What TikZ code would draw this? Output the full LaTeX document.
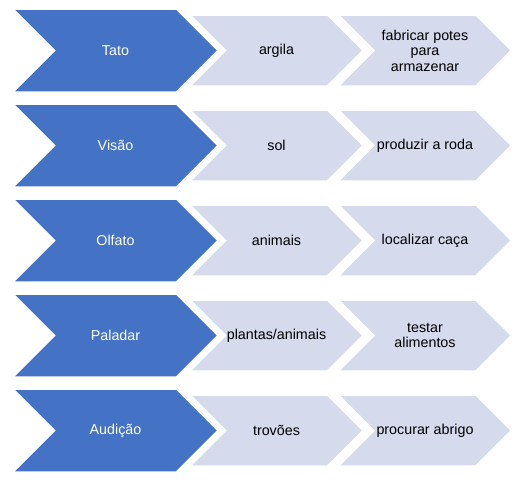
\documentclass[tikz,border=0pt]{standalone}
\usepackage{fontspec}
\setmainfont{Liberation Sans}
\usetikzlibrary{shapes.symbols,positioning}
\definecolor{senseblue}{RGB}{68,114,196}
\definecolor{itemgray}{RGB}{213,218,236}
\tikzset{
    %Define style for the sense chevrons
    sense/.style={
           signal,
           signal from=west,
           signal to=east,
           draw=white, line width=1.5pt,
           minimum width=205pt,
           minimum height=83pt,
           inner sep=0pt,
           font=\fontsize{14.3}{15.5}\selectfont,
           align=center,
           text=white,
           fill=senseblue},
    %Define style for the item chevrons
    item/.style={
           sense,
           minimum width=173pt,
           minimum height=71pt,
           text=black,
           fill=itemgray}
}
\begin{document}
\begin{tikzpicture}[x=1pt,y=1pt]
\useasboundingbox (0,0) rectangle (527,-482);
\node[sense](tato) at (115.5,-50.5){Tato};
\node[sense, below=10.5pt of tato](visao){Visão};
\node[sense, below=10.5pt of visao](olfato){Olfato};
\node[sense, below=10.5pt of olfato](paladar){Paladar};
\node[sense, below=10.5pt of paladar](audicao){Audição};
\node[item] (argila) at ([xshift=161pt]tato.center){argila};
\node[item] (potes) at ([xshift=309.5pt]tato.center){fabricar potes\\para\\armazenar};
\node[item] (sol) at ([xshift=161pt]visao.center){sol};
\node[item] (roda) at ([xshift=309.5pt]visao.center){produzir a roda};
\node[item] (animais) at ([xshift=161pt]olfato.center){animais};
\node[item] (caca) at ([xshift=309.5pt]olfato.center){localizar caça};
\node[item] (plantas) at ([xshift=161pt]paladar.center){plantas/animais};
\node[item] (alimentos) at ([xshift=309.5pt]paladar.center){testar\\alimentos};
\node[item] (trovoes) at ([xshift=161pt]audicao.center){trovões};
\node[item] (abrigo) at ([xshift=309.5pt]audicao.center){procurar abrigo};
\end{tikzpicture}
\end{document}
